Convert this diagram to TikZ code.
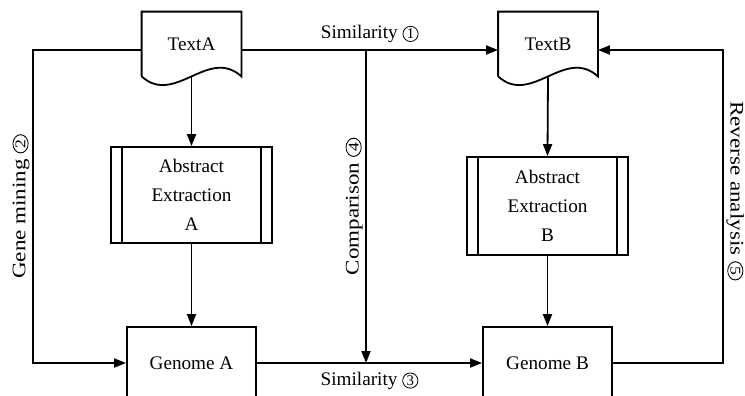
\documentclass[tikz,border=0pt]{standalone}
\usepackage{fontspec}
\setmainfont{Liberation Serif}
\usetikzlibrary{arrows.meta}

\newcommand{\cnum}[1]{\tikz[baseline=(c.base)]\node[circle,draw,line width=0.4pt,minimum size=7.6pt,inner sep=0pt,font=\fontsize{7.4}{7.4}\selectfont] (c) {#1};}

\begin{document}
\begin{tikzpicture}[x=0.5pt,y=-0.5pt,
    every node/.style={font=\fontsize{9.6}{14.4}\selectfont},
    line/.style={line width=0.9pt},
    arr/.style={line width=0.9pt,-{Triangle[length=6pt,width=4.5pt]}},
    doc/.style={minimum width=49.5pt,minimum height=32pt,inner sep=0pt},
    proc/.style={draw,line width=0.9pt,minimum width=80.5pt,align=center,inner sep=0pt},
    gene/.style={draw,line width=0.9pt,minimum width=64.5pt,minimum height=36pt},
    vlabel/.style={anchor=south,inner sep=1.5pt,xscale=1.2}]

    \useasboundingbox (0,0) rectangle (745,396);

    % documents
    \node[doc] (textA) at (191.5,44) {TextA};
    \node[doc] (textB) at (548,44) {TextB};
    \foreach \t in {textA,textB}
        \draw[line] (\t.south west) -- (\t.north west) -- (\t.north east) -- (\t.south east)
            .. controls +(-33,-30) and +(33,30) .. (\t.south west);

    % predefined processes
    \node[proc,minimum height=48pt] (absA) at (191.5,195) {Abstract\\Extraction\\A};
    \node[proc,minimum height=49pt] (absB) at (547.5,206) {Abstract\\Extraction\\B};
    \foreach \p in {absA,absB} {
        \draw[line] ([xshift=6pt]\p.north west) -- ([xshift=6pt]\p.south west);
        \draw[line] ([xshift=-6pt]\p.north east) -- ([xshift=-6pt]\p.south east);
    }

    \node[gene] (genA) at (191.5,363) {Genome A};
    \node[gene] (genB) at (547.5,363) {Genome B};

    \coordinate (gmTop) at (33,50);
    \coordinate (gmBot) at (33,363);
    \coordinate (cmpTop) at (366,50);
    \coordinate (cmpEnd) at (366,363);
    \coordinate (revTop) at (723,50);
    \coordinate (revBot) at (723,363);

    \draw[arr] (textA.south) -- (absA.north);
    \draw[arr] (absA.south) -- (genA.north);
    \draw[arr] (textB.south) -- (absB.north);
    \draw[arr] (absB.south) -- (genB.north);

    \draw[arr] ([yshift=-3pt]textA.east) -- node[above]{Similarity \cnum{1}} ([yshift=-3pt]textB.west);
    \draw[arr] (genA.east) -- node[below,yshift=-1pt]{Similarity \cnum{3}} (genB.west);
    \draw[arr] (cmpTop) -- node[rotate=90,vlabel]{Comparison \cnum{4}} (cmpEnd);
    \draw[arr] ([yshift=-3pt]textA.west) -- (gmTop)
        -- node[rotate=90,vlabel]{Gene mining \cnum{2}} (gmBot) -- (genA.west);
    \draw[arr] (genB.east) -- (revBot)
        -- node[rotate=-90,vlabel,pos=0.55]{Reverse analysis \cnum{5}} (revTop) -- ([yshift=-3pt]textB.east);

\end{tikzpicture}
\end{document}
